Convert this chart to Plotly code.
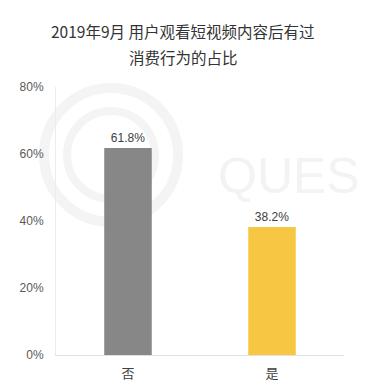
import plotly.graph_objects as go

categories = ["否", "是"]
values = [61.8, 38.2]
colors = ["#878787", "#F7C744"]
tick_vals = [0, 20, 40, 60, 80]
tick_text = ["0%", "20%", "40%", "60%", "80%"]
title_lines = ["2019年9月 用户观看短视频内容后有过", "消费行为的占比"]

W, H = 366, 381
ML, MR, MT, MB = 56, 22, 87, 26
PW = W - ML - MR

fig = go.Figure()
fig.add_trace(go.Bar(
    x=categories, y=values,
    marker=dict(color=colors, line=dict(width=0)),
    text=[f"{v:.1f}%" for v in values],
    textposition="outside",
    textfont=dict(size=12, color="#404040", family="Liberation Sans, Arial"),
    cliponaxis=False,
    hoverinfo="skip",
))

font_fam = "Noto Sans CJK SC, Liberation Sans, sans-serif"


def px_x(x):
    return (x - ML) / PW


# title as two centered lines (pixel offsets above the plot top)
for line, ypix in zip(title_lines, [31, 57]):
    fig.add_annotation(text=line, xref="paper", yref="paper",
                       x=px_x(W / 2), y=1, yshift=MT - ypix,
                       xanchor="center", yanchor="middle", showarrow=False,
                       font=dict(size=15.5, color="#333333", family=font_fam))

# faint watermark
fig.add_annotation(text="QUES", xref="paper", yref="paper", x=px_x(216),
                   y=1, yshift=MT - 176,
                   xanchor="left", yanchor="middle", showarrow=False,
                   font=dict(size=50, color="#f3f3f3", family="Liberation Sans"))
for r, wdt in [(67, 10), (44, 8)]:
    fig.add_shape(type="circle", xref="paper", yref="paper",
                  xsizemode="pixel", ysizemode="pixel",
                  xanchor=px_x(111), yanchor=1,
                  x0=-r, x1=r, y0=(MT - 155) - r, y1=(MT - 155) + r,
                  line=dict(color="#f4f4f4", width=wdt), layer="below")

fig.update_layout(
    width=W, height=H,
    margin=dict(l=ML, r=MR, t=MT, b=MB),
    paper_bgcolor="white", plot_bgcolor="white",
    bargap=0.67,
    showlegend=False,
    xaxis=dict(showline=True, linecolor="#e0e0e0", linewidth=1, ticks="",
               tickfont=dict(size=13, color="#404040", family=font_fam),
               ticklabelstandoff=6,
               showgrid=False, fixedrange=True, automargin=False),
    yaxis=dict(range=[0, 80], tickvals=tick_vals, ticktext=tick_text,
               showline=True, linecolor="#ececec", linewidth=1,
               showgrid=False, zeroline=False, ticks="",
               tickfont=dict(size=12, color="#595959", family="Liberation Sans, Arial"),
               ticklabelstandoff=9, fixedrange=True, automargin=False),
)

fig.write_html("out.html", config={"displayModeBar": False},
               post_script="document.body.style.margin='0';")
